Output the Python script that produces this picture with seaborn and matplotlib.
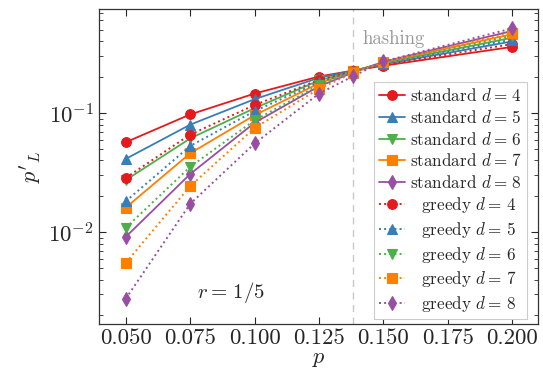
import matplotlib
matplotlib.use('Agg')
import matplotlib.pyplot as plt
import seaborn as sns
from matplotlib.ticker import LogLocator, NullFormatter

# Data
p = [0.05, 0.075, 0.1, 0.125, 0.1384, 0.15, 0.2]
hashing_p = 0.1384
depths = [4, 5, 6, 7, 8]

standard = {
    4: [0.057, 0.0975, 0.146, 0.203, 0.228, 0.250, 0.360],
    5: [0.0413, 0.080, 0.131, 0.198, 0.228, 0.257, 0.400],
    6: [0.0274, 0.0613, 0.110, 0.188, 0.226, 0.262, 0.430],
    7: [0.0161, 0.0460, 0.096, 0.178, 0.225, 0.266, 0.460],
    8: [0.00914, 0.0308, 0.083, 0.168, 0.220, 0.270, 0.490],
}
greedy = {
    4: [0.0286, 0.066, 0.117, 0.190, 0.226, 0.254, 0.380],
    5: [0.0182, 0.053, 0.104, 0.182, 0.225, 0.260, 0.415],
    6: [0.0109, 0.0354, 0.087, 0.172, 0.222, 0.264, 0.445],
    7: [0.00553, 0.0244, 0.075, 0.160, 0.218, 0.268, 0.475],
    8: [0.00277, 0.0173, 0.0556, 0.146, 0.205, 0.272, 0.515],
}

colors = {4: '#e41a1c', 5: '#377eb8', 6: '#4daf4a', 7: '#ff7f00', 8: '#984ea3'}
markers = {4: 'o', 5: '^', 6: 'v', 7: 's', 8: 'd'}

sns.set_style('ticks')
plt.rcParams['font.family'] = ['cmr10']
plt.rcParams['mathtext.fontset'] = 'cm'
plt.rcParams['axes.unicode_minus'] = False
plt.rcParams['axes.formatter.use_mathtext'] = True

fig = plt.figure(figsize=(5.43, 3.79), dpi=100)
ax = fig.add_axes([0.182, 0.145, 0.809, 0.831])

for d in depths:
    sns.lineplot(x=p, y=standard[d], ax=ax, color=colors[d], marker=markers[d],
                 markersize=7, markeredgewidth=0.8, markeredgecolor=colors[d],
                 linewidth=1.3, label=f'standard $d=\\,{d}$')
for d in depths:
    sns.lineplot(x=p, y=greedy[d], ax=ax, color=colors[d], marker=markers[d],
                 markersize=7, markeredgewidth=0.8, markeredgecolor=colors[d],
                 linewidth=1.4, linestyle=':', label=f'  greedy $d=\\,{d}$')

ax.axvline(hashing_p, color='#c8c8c8', linestyle=(0, (5, 4)), linewidth=1.0, zorder=0)
ax.text(hashing_p + 0.0035, 0.905, 'hashing', transform=ax.get_xaxis_transform(),
        color='#999999', fontsize=13.5, va='center', ha='left')
ax.text(0.30, 0.10, '$r =\\, 1/5$', transform=ax.transAxes, fontsize=15,
        ha='center', va='center')

ax.set_yscale('log')
ax.set_xlim(0.0395, 0.2101)
ax.set_ylim(0.00169, 0.748)
ax.set_xticks([0.05, 0.075, 0.1, 0.125, 0.15, 0.175, 0.2])
ax.set_xticklabels(['0.050', '0.075', '0.100', '0.125', '0.150', '0.175', '0.200'])
ax.yaxis.set_major_locator(LogLocator(base=10, numticks=10))
ax.yaxis.set_minor_locator(LogLocator(base=10, subs=range(2, 10), numticks=20))
ax.yaxis.set_minor_formatter(NullFormatter())

ax.tick_params(which='both', direction='in', top=True, right=True, labelsize=16.5)
ax.tick_params(which='major', length=5, width=0.8)
ax.tick_params(which='minor', length=3, width=0.6)
for s in ax.spines.values():
    s.set_linewidth(0.9)
    s.set_color('#333333')

ax.set_xlabel('$p$', fontsize=16, labelpad=1)
ax.set_ylabel("$p'_L$", fontsize=16, labelpad=4)

leg = ax.legend(loc='lower right', fontsize=12.3, frameon=True, fancybox=False,
                edgecolor='#cccccc', framealpha=1, handlelength=1.5,
                handletextpad=0.3, labelspacing=0.27, borderpad=0.3,
                borderaxespad=0, bbox_to_anchor=(0.975, 0.016))
leg.get_frame().set_linewidth(0.8)

fig.savefig('out.png', dpi=100)
